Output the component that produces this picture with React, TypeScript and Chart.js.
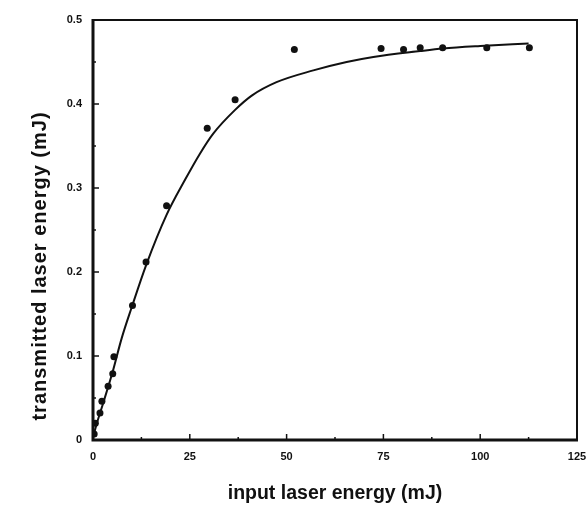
import React, { useEffect, useRef } from "react";
import { Chart, registerables } from "chart.js";

Chart.register(...registerables);

// measured data points (input energy mJ, transmitted energy mJ)
const pointX = [0.3, 0.6, 1.8, 2.3, 3.9, 5.1, 5.4, 10.2, 13.7, 19.0, 29.5, 36.7, 52.0, 74.4, 80.2, 84.5, 90.3, 101.7, 112.7];
const pointY = [0.007, 0.02, 0.032, 0.046, 0.064, 0.079, 0.099, 0.16, 0.212, 0.279, 0.371, 0.405, 0.465, 0.466, 0.465, 0.467, 0.467, 0.467, 0.467];

// fitted curve
const curveX = [0, 1, 2.5, 5, 7.4, 10, 13.7, 19, 23.8, 27.5, 31.1, 36.7, 41, 47.4, 56.9, 65.5, 72.4, 84.5, 90.4, 100, 112.5];
const curveY = [0.003, 0.02, 0.042, 0.08, 0.121, 0.158, 0.208, 0.268, 0.31, 0.34, 0.365, 0.393, 0.41, 0.426, 0.44, 0.45, 0.456, 0.463, 0.466, 0.469, 0.472];

// axes
const xMin = 0, xMax = 125, xMajor = 25, xMinor = 12.5;
const yMin = 0, yMax = 0.5, yMajor = 0.1, yMinor = 0.05;
const xTitle = "input laser energy (mJ)";
const yTitle = "transmitted laser energy (mJ)";

const INK = "#111";
const FONT = '"Liberation Sans", Arial, sans-serif';

const framePlugin = {
  id: "frame",
  afterDraw(chart: any) {
    const { ctx, chartArea: a, scales } = chart;
    const xs = scales.x, ys = scales.y;
    ctx.save();
    ctx.strokeStyle = INK;
    ctx.lineCap = "butt";
    // inward ticks
    ctx.lineWidth = 1.5;
    const nx = Math.round((xMax - xMin) / xMinor);
    for (let i = 1; i < nx; i++) {
      const v = xMin + i * xMinor;
      const px = xs.getPixelForValue(v);
      const len = Math.abs(v / xMajor - Math.round(v / xMajor)) < 1e-6 ? 6 : 3;
      ctx.beginPath();
      ctx.moveTo(px, a.bottom);
      ctx.lineTo(px, a.bottom - len);
      ctx.stroke();
    }
    const ny = Math.round((yMax - yMin) / yMinor);
    for (let i = 1; i < ny; i++) {
      const v = yMin + i * yMinor;
      const py = ys.getPixelForValue(v);
      const len = Math.abs(v / yMajor - Math.round(v / yMajor)) < 1e-6 ? 6 : 3;
      ctx.beginPath();
      ctx.moveTo(a.left, py);
      ctx.lineTo(a.left + len, py);
      ctx.stroke();
    }
    // frame
    ctx.lineWidth = 2;
    ctx.beginPath();
    ctx.moveTo(a.left, a.top);
    ctx.lineTo(a.right, a.top);
    ctx.lineTo(a.right, a.bottom);
    ctx.stroke();
    ctx.lineWidth = 3;
    ctx.beginPath();
    ctx.moveTo(a.left, a.top - 1);
    ctx.lineTo(a.left, a.bottom);
    ctx.lineTo(a.right + 1, a.bottom);
    ctx.stroke();
    // titles
    ctx.fillStyle = INK;
    ctx.textAlign = "center";
    ctx.textBaseline = "middle";
    ctx.font = `bold 19.5px ${FONT}`;
    ctx.fillText(xTitle, (a.left + a.right) / 2, 494);
    ctx.translate(40, 266);
    ctx.rotate(-Math.PI / 2);
    ctx.font = `bold 20px ${FONT}`;
    (ctx as any).letterSpacing = "1px";
    ctx.fillText(yTitle, 0, 0);
    ctx.restore();
  },
};

export default function App() {
  const ref = useRef<HTMLCanvasElement>(null);
  useEffect(() => {
    document.body.style.margin = "0";
    const canvas = ref.current!;
    const chart = new Chart(canvas, {
      type: "scatter",
      data: {
        datasets: [
          {
            label: "fit",
            data: curveX.map((x, i) => ({ x, y: curveY[i] })),
            showLine: true,
            borderColor: INK,
            borderWidth: 2,
            pointRadius: 0,
            cubicInterpolationMode: "monotone",
            fill: false,
          } as any,
          {
            label: "measured",
            data: pointX.map((x, i) => ({ x, y: pointY[i] })),
            backgroundColor: INK,
            borderColor: INK,
            borderWidth: 0,
            pointRadius: 3.5,
          },
        ],
      },
      options: {
        responsive: false,
        animation: false,
        layout: { padding: { top: 20, right: 9, left: 0, bottom: 0 } },
        plugins: { legend: { display: false }, tooltip: { enabled: false } },
        scales: {
          x: {
            type: "linear",
            min: xMin,
            max: xMax,
            border: { display: false },
            grid: { display: false, drawTicks: false },
            ticks: {
              stepSize: xMajor,
              padding: 10,
              color: INK,
              font: { family: FONT, size: 11, weight: "bold" },
              maxRotation: 0,
            },
            afterFit: (s: any) => {
              s.height = 67;
              s.paddingLeft = 0;
              s.paddingRight = 0;
            },
          },
          y: {
            type: "linear",
            min: yMin,
            max: yMax,
            border: { display: false },
            grid: { display: false, drawTicks: false },
            ticks: {
              stepSize: yMajor,
              padding: 11,
              color: INK,
              font: { family: FONT, size: 11, weight: "bold" },
            },
            afterFit: (s: any) => {
              s.width = 93;
              s.paddingTop = 0;
              s.paddingBottom = 0;
            },
          },
        },
      },
      plugins: [framePlugin],
    });
    return () => chart.destroy();
  }, []);
  return <canvas ref={ref} width={586} height={507} style={{ display: "block" }} />;
}
